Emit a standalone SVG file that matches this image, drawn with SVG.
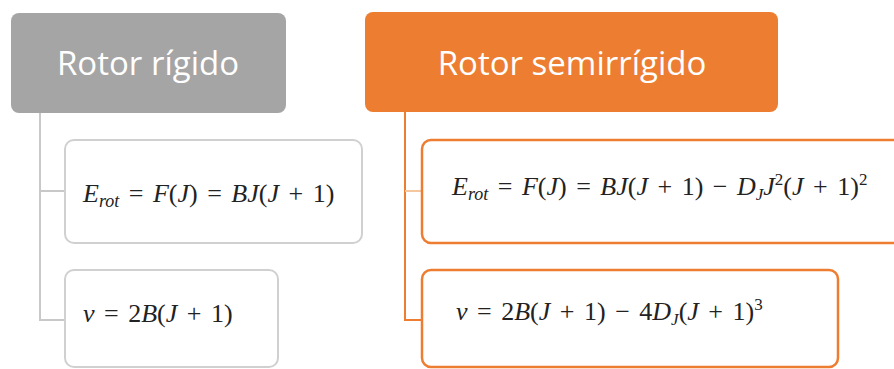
<svg xmlns="http://www.w3.org/2000/svg" width="894" height="369" viewBox="0 0 894 369">
<style>
.hdr{font-family:"Open Sans","Noto Sans","Liberation Sans",sans-serif;font-size:33px;fill:#ffffff;text-anchor:middle}
.eq{font-family:"Liberation Serif","DejaVu Serif",serif;font-size:26px;fill:#222222;word-spacing:3px}
.i{font-style:italic}
.gbox{fill:#ffffff;stroke:#d0d0d0;stroke-width:2}
.obox{fill:#ffffff;stroke:#ed7d31;stroke-width:2.5}
.gline{fill:none;stroke:#c8c8c8;stroke-width:2}
.oline{fill:none;stroke:#ed7d31;stroke-width:2}
</style>
<rect width="894" height="369" fill="#ffffff"/>
<g id="connectors">
<path class="gline" d="M40,113 V320 H66 M40,191 H66"/>
<path class="oline" d="M405,112 V320 H423"/>
<path d="M405,191 H423" fill="none" stroke="#f5c79f" stroke-width="2"/>
</g>
<g id="rotor-rigido">
<rect x="11" y="13" width="275" height="100" rx="8" fill="#a5a5a5"/>
<text class="hdr" x="148" y="75">Rotor rígido</text>
</g>
<g id="rotor-semirrigido">
<rect x="365" y="12" width="413" height="100" rx="8" fill="#ed7d31"/>
<text class="hdr" x="572" y="75">Rotor semirrígido</text>
</g>
<g id="rigido-energia">
<rect class="gbox" x="65" y="140" width="297" height="103" rx="9"/>
<text class="eq" x="83" y="202"><tspan class="i">E</tspan><tspan class="i" font-size="18" dy="5">rot</tspan><tspan dy="-5"> = </tspan><tspan class="i">F</tspan>(<tspan class="i">J</tspan>) = <tspan class="i">BJ</tspan>(<tspan class="i">J</tspan> + 1)</text>
</g>
<g id="rigido-frecuencia">
<rect class="gbox" x="65" y="270" width="213" height="97" rx="9"/>
<text class="eq" x="83" y="322"><tspan class="i">ν</tspan> = 2<tspan class="i">B</tspan>(<tspan class="i">J</tspan> + 1)</text>
</g>
<g id="semi-energia">
<rect class="obox" x="422" y="140" width="490" height="103" rx="9"/>
<text class="eq" x="452" y="195"><tspan class="i">E</tspan><tspan class="i" font-size="18" dy="5">rot</tspan><tspan dy="-5"> = </tspan><tspan class="i">F</tspan>(<tspan class="i">J</tspan>) = <tspan class="i">BJ</tspan>(<tspan class="i">J</tspan> + 1) − <tspan class="i">D</tspan><tspan class="i" font-size="17" dy="5">J</tspan><tspan class="i" dy="-5">J</tspan><tspan font-size="17" dy="-10">2</tspan><tspan dy="10">(</tspan><tspan class="i">J</tspan> + 1)<tspan font-size="17" dy="-10">2</tspan></text>
</g>
<g id="semi-frecuencia">
<rect class="obox" x="422" y="270" width="416" height="97" rx="9"/>
<text class="eq" x="456" y="320"><tspan class="i">ν</tspan> = 2<tspan class="i">B</tspan>(<tspan class="i">J</tspan> + 1) − 4<tspan class="i">D</tspan><tspan class="i" font-size="17" dy="5">J</tspan><tspan dy="-5">(</tspan><tspan class="i">J</tspan> + 1)<tspan font-size="17" dy="-10">3</tspan></text>
</g>
</svg>
